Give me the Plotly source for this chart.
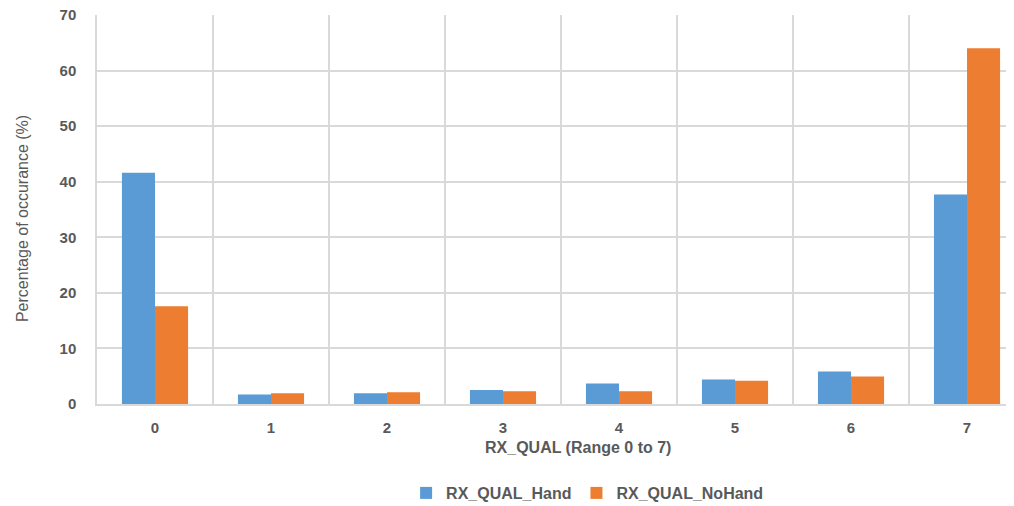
import plotly.graph_objects as go

categories = [0, 1, 2, 3, 4, 5, 6, 7]
hand = [41.6, 1.7, 1.95, 2.5, 3.7, 4.4, 5.85, 37.7]
nohand = [17.6, 1.95, 2.1, 2.3, 2.3, 4.2, 4.95, 64.0]
yticks = [0, 10, 20, 30, 40, 50, 60, 70]

FONT = "Liberation Sans"
GRAY = "#595959"
GRID = "#D9D9D9"

fig = go.Figure()
fig.add_trace(go.Bar(x=categories, y=hand, name="RX_QUAL_Hand", marker_color="#5B9BD5",
                     marker_line_width=0))
fig.add_trace(go.Bar(x=categories, y=nohand, name="RX_QUAL_NoHand", marker_color="#ED7D31",
                     marker_line_width=0))

fig.update_layout(
    width=1014, height=506,
    margin=dict(l=89, r=8, t=7, b=110),
    paper_bgcolor="white", plot_bgcolor="white",
    barmode="group", bargap=0.43, bargroupgap=0,
    font=dict(family=FONT, color=GRAY, size=15),
    showlegend=True,
    legend=dict(orientation="h", xref="paper", x=0.535, xanchor="center",
                yref="container", y=0.0415, yanchor="middle",
                font=dict(size=16, family=FONT, weight="bold", color=GRAY),
                itemwidth=30, traceorder="normal"),
    xaxis=dict(
        automargin=False,
        range=[-0.5, 7.405],
        tickvals=categories, ticktext=[str(c) for c in categories],
        showgrid=False, zeroline=False,
        showline=True, linecolor=GRID, linewidth=1.5,
        ticks="", ticklabelstandoff=9, ticklabeloverflow="allow",
        tickfont=dict(size=15, family=FONT, weight="bold", color=GRAY),
        minor=dict(tickvals=[c + 0.5 for c in categories[:-1]], showgrid=True,
                   gridcolor=GRID, gridwidth=1.5, ticks=""),
    ),
    yaxis=dict(
        automargin=False,
        range=[0, 70], tickvals=yticks,
        showgrid=True, gridcolor=GRID, gridwidth=1.5, zeroline=False,
        showline=True, linecolor=GRID, linewidth=1.5,
        ticks="", ticklabelstandoff=16, ticklabeloverflow="allow",
        tickfont=dict(size=15, family=FONT, weight="bold", color=GRAY),
    ),
    annotations=[
        dict(text="<b>RX_QUAL (Range 0 to 7)</b>", xref="paper", yref="paper",
             x=0.5245, y=-0.111, xanchor="center", yanchor="middle", showarrow=False,
             font=dict(size=16, family=FONT, color=GRAY)),
        dict(text="Percentage of occurance (%)", xref="paper", yref="paper",
             x=-0.0818, y=0.478, xanchor="center", yanchor="middle", showarrow=False,
             textangle=-90, font=dict(size=16, family=FONT, color=GRAY)),
    ],
)

fig.write_html("out.html")
